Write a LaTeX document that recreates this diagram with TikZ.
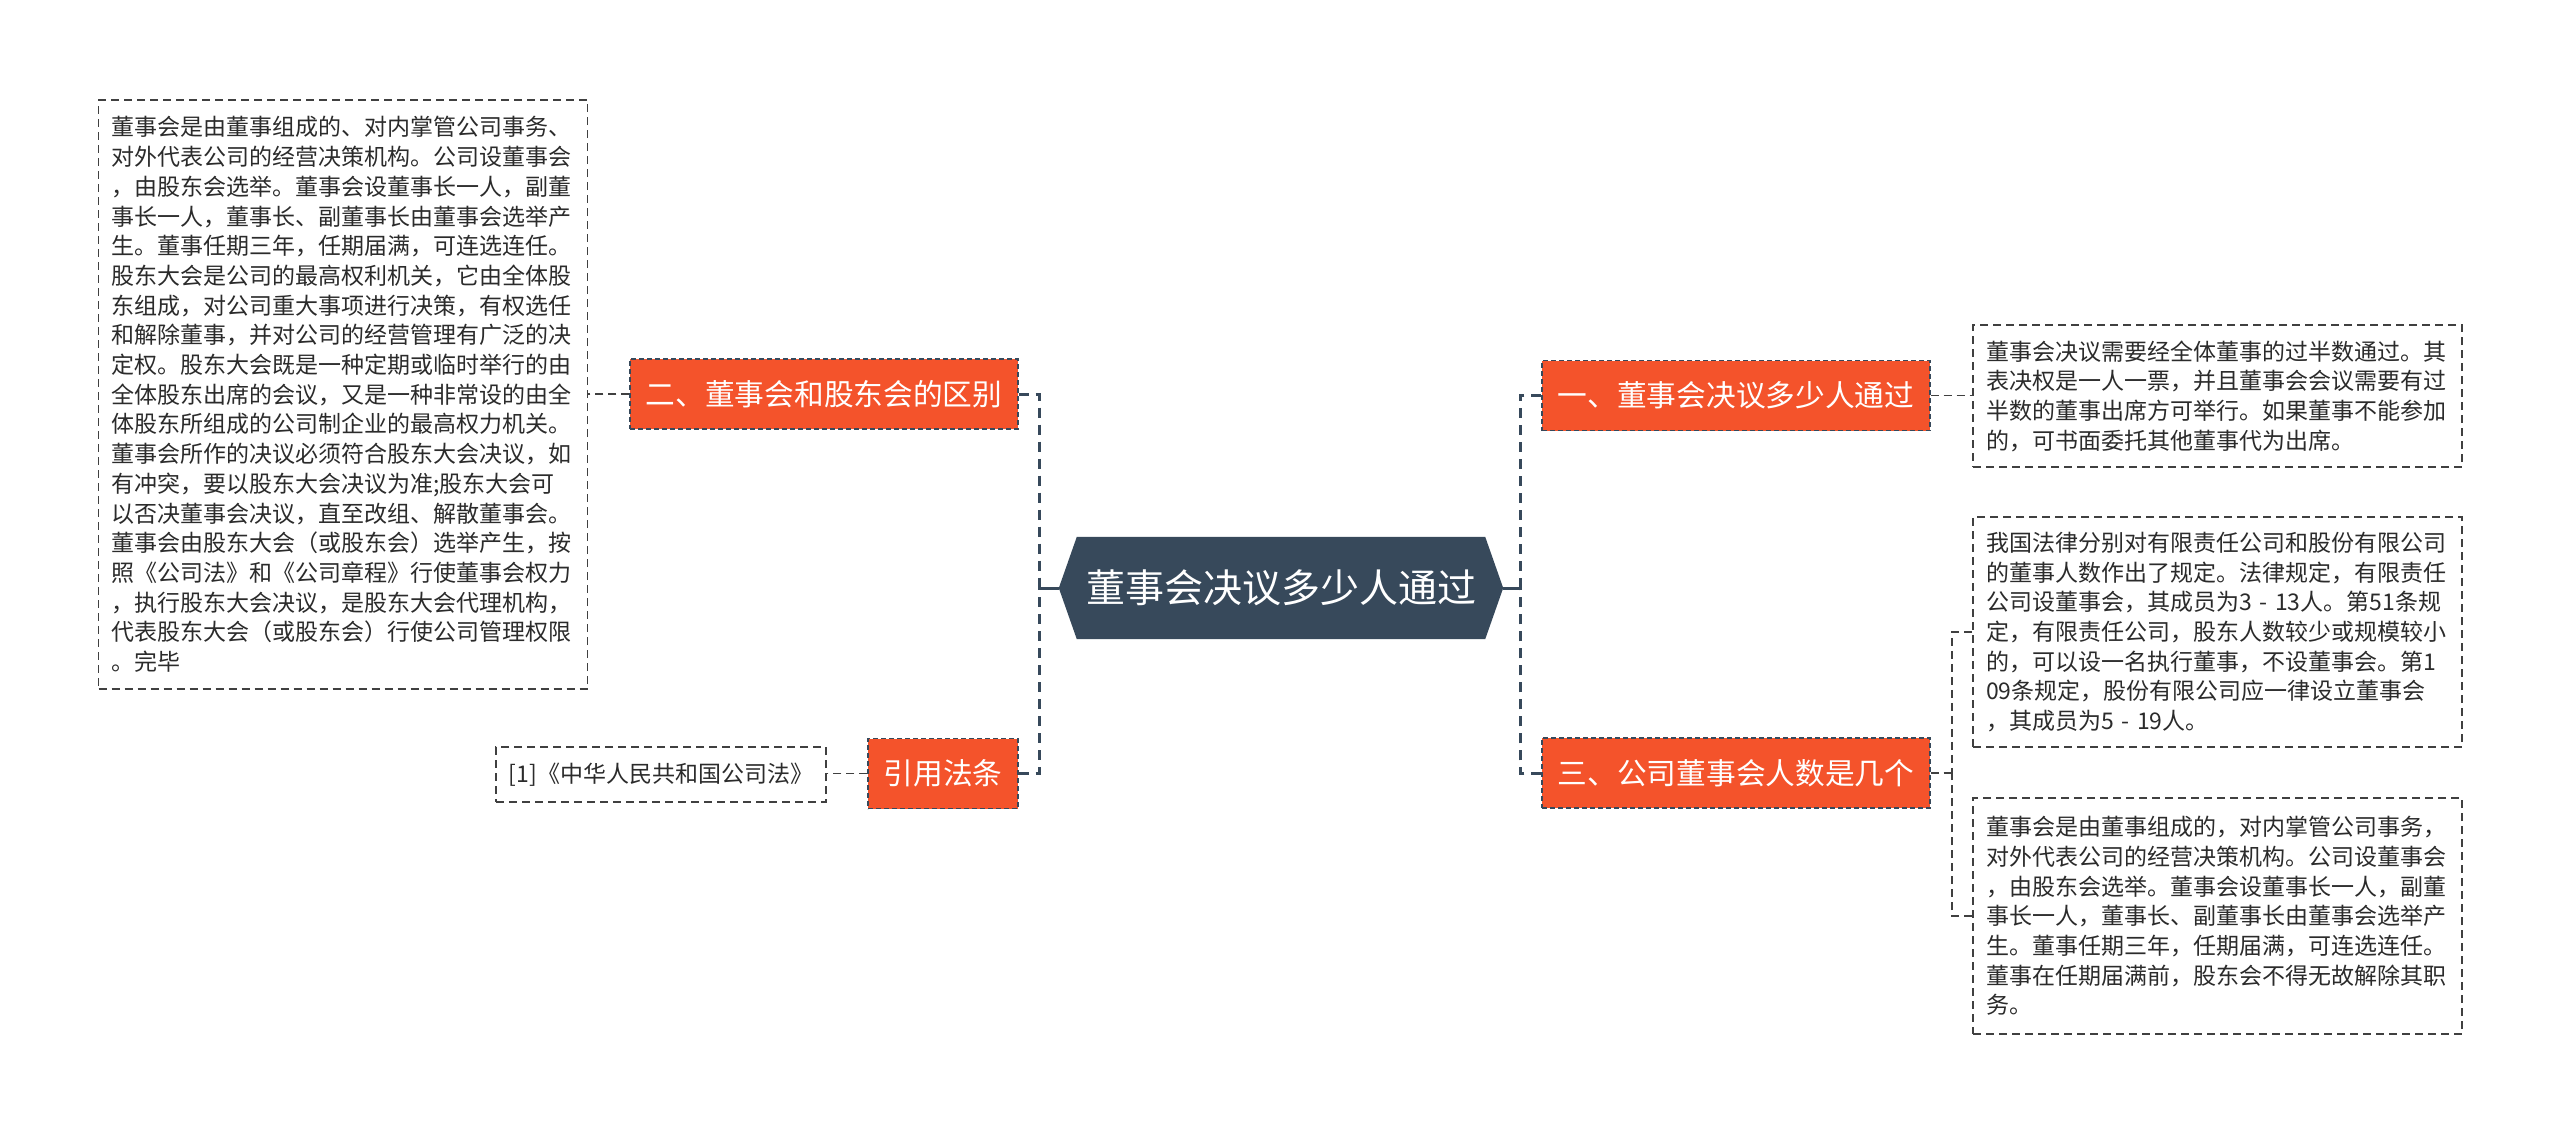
\documentclass[tikz,border=0pt]{standalone}
\usepackage{fontspec}
\newfontfamily\cjk{Noto Sans CJK SC}
\definecolor{orangec}{HTML}{F4532B}
\definecolor{darkc}{HTML}{37495B}
\definecolor{leafc}{HTML}{404040}
\definecolor{textc}{HTML}{2B2B2B}
\tikzset{
  leafbox/.style={draw=leafc, line width=1.8pt, dash pattern=on 8pt off 5pt, align=left,
    text=textc, font=\cjk\fontsize{23}{29.7}\selectfont, inner xsep=13pt, inner ysep=0pt,
    text width=463pt, anchor=center},
  refbox/.style={draw=leafc, line width=1.8pt, dash pattern=on 8pt off 5pt,
    text=textc, font=\cjk\fontsize{23}{29.7}\selectfont, inner sep=0pt,
    minimum width=330pt, minimum height=55pt, anchor=center},
  topic/.style={fill=orangec, draw=darkc, line width=1.2pt, dash pattern=on 5pt off 3pt,
    text=white, font=\cjk\fontsize{29.7}{36}\selectfont, inner sep=0pt,
    minimum height=70pt, anchor=center},
  rootnode/.style={text=white, font=\cjk\fontsize{39}{46}\selectfont, inner sep=0pt,
    minimum width=444pt, minimum height=102pt, anchor=center},
  mainline/.style={draw=darkc, line width=3pt, dash pattern=on 10pt off 7pt},
  mainsolid/.style={draw=darkc, line width=3pt},
  leafline/.style={draw=leafc, line width=1.8pt, dash pattern=on 8pt off 5pt},
}
\begin{document}
\begin{tikzpicture}[x=1pt,y=-1pt]
\useasboundingbox (0,0) rectangle (2560,1130);
\fill[white] (0,0) rectangle (2560,1130);

% root
\node[rootnode] (root) at (1281,588) {};
\fill[darkc] (root.west) -- ([xshift=18pt]root.north west) -- ([xshift=-18pt]root.north east)
  -- (root.east) -- ([xshift=-18pt]root.south east) -- ([xshift=18pt]root.south west) -- cycle;
\node[rootnode] (roottext) at (root.center) {董事会决议多少人通过};

% topics
\node[topic, minimum width=388pt] (n2) at (824,394) {二、董事会和股东会的区别};
\node[topic, minimum width=150pt] (nref) at (943,773.5) {引用法条};
\node[topic, minimum width=388pt] (n1) at (1736,395.5) {一、董事会决议多少人通过};
\node[topic, minimum width=388pt] (n3) at (1736,773) {三、公司董事会人数是几个};

% leaves
\node[leafbox, minimum height=589pt] (lbox) at (343,394.5) {董事会是由董事组成的、对内掌管公司事务、\\
对外代表公司的经营决策机构。公司设董事会\\
，由股东会选举。董事会设董事长一人，副董\\
事长一人，董事长、副董事长由董事会选举产\\
生。董事任期三年，任期届满，可连选连任。\\
股东大会是公司的最高权利机关，它由全体股\\
东组成，对公司重大事项进行决策，有权选任\\
和解除董事，并对公司的经营管理有广泛的决\\
定权。股东大会既是一种定期或临时举行的由\\
全体股东出席的会议，又是一种非常设的由全\\
体股东所组成的公司制企业的最高权力机关。\\
董事会所作的决议必须符合股东大会决议，如\\
有冲突，要以股东大会决议为准;股东大会可\\
以否决董事会决议，直至改组、解散董事会。\\
董事会由股东大会（或股东会）选举产生，按\\
照《公司法》和《公司章程》行使董事会权力\\
，执行股东大会决议，是股东大会代理机构，\\
代表股东大会（或股东会）行使公司管理权限\\
。完毕};

\node[refbox] (rbox) at (661,774.5) {[1]《中华人民共和国公司法》};

\node[leafbox, minimum height=142pt] (b1) at (2217.5,396) {董事会决议需要经全体董事的过半数通过。其\\
表决权是一人一票，并且董事会会议需要有过\\
半数的董事出席方可举行。如果董事不能参加\\
的，可书面委托其他董事代为出席。};

\node[leafbox, minimum height=230pt] (b2) at (2217.5,632) {我国法律分别对有限责任公司和股份有限公司\\
的董事人数作出了规定。法律规定，有限责任\\
公司设董事会，其成员为3 - 13人。第51条规\\
定，有限责任公司，股东人数较少或规模较小\\
的，可以设一名执行董事，不设董事会。第1\\
09条规定，股份有限公司应一律设立董事会\\
，其成员为5 - 19人。};

\node[leafbox, minimum height=236pt] (b3) at (2217.5,916) {董事会是由董事组成的，对内掌管公司事务，\\
对外代表公司的经营决策机构。公司设董事会\\
，由股东会选举。董事会设董事长一人，副董\\
事长一人，董事长、副董事长由董事会选举产\\
生。董事任期三年，任期届满，可连选连任。\\
董事在任期届满前，股东会不得无故解除其职\\
务。};

% connectors
\coordinate (lv) at (1039,588);
\coordinate (rv) at (1520,588);
\coordinate (rv3) at (1952,773);
\draw[mainsolid] (root.west) -- (lv);
\draw[mainsolid] (root.east) -- (rv);
\draw[mainline] (n2.east) -| (lv);
\draw[mainline] (nref.east) -| (lv);
\draw[mainline] (n1.west) -| (rv);
\draw[mainline] (n3.west) -| (rv);

\draw[leafline] (n2.west) -- (lbox.east |- n2.west);
\draw[leafline] (nref.west) -- (rbox.east |- nref.west);
\draw[leafline] (n1.east) -- (b1.west |- n1.east);
\draw[leafline] (n3.east) -- (rv3);
\draw[leafline] (b2.west) -| (rv3);
\draw[leafline] (b3.west) -| (rv3);
\end{tikzpicture}
\end{document}
